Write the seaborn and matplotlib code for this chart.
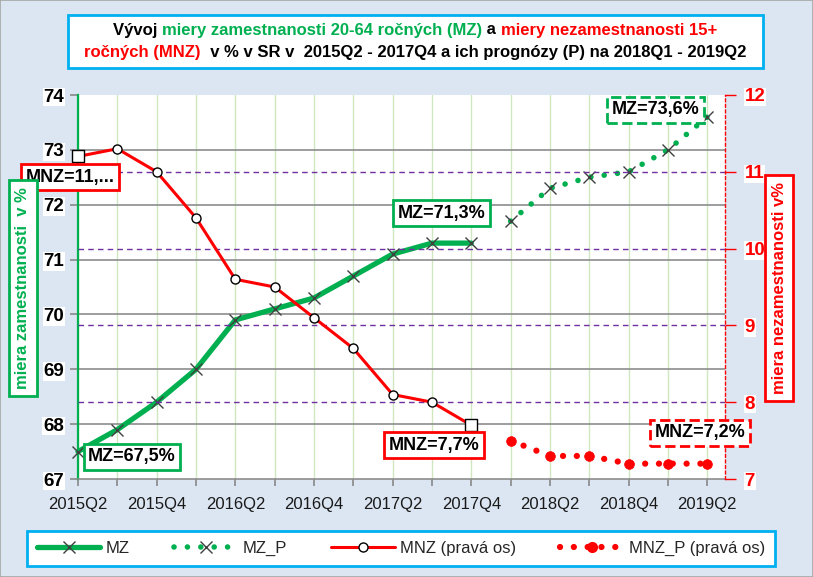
import matplotlib.pyplot as plt
from matplotlib.lines import Line2D
from matplotlib.patches import Rectangle
import seaborn as sns


# ------------------------------------------------------------
# 1. Data
# ------------------------------------------------------------

quarters = ["2015Q2", "2015Q3", "2015Q4", "2016Q1", "2016Q2", "2016Q3", "2016Q4",
            "2017Q1", "2017Q2", "2017Q3", "2017Q4", "2018Q1", "2018Q2", "2018Q3",
            "2018Q4", "2019Q1", "2019Q2"]

# miera zamestnanosti 20-64 (left axis), 2015Q2 - 2017Q4
mz = [67.5, 67.9, 68.4, 69.0, 69.9, 70.1, 70.3, 70.7, 71.1, 71.3, 71.3]
# prognoza 2018Q1 - 2019Q2
mz_p = [71.7, 72.3, 72.5, 72.6, 73.0, 73.6]

# miera nezamestnanosti 15+ (right axis)
mnz = [11.2, 11.3, 11.0, 10.4, 9.6, 9.5, 9.1, 8.7, 8.1, 8.0, 7.7]
mnz_p = [7.5, 7.3, 7.3, 7.2, 7.2, 7.2]

x_hist = list(range(len(mz)))
x_prog = list(range(len(mz), len(quarters)))


# ------------------------------------------------------------
# 2. Style
# ------------------------------------------------------------

BG = "#DCE6F2"
GREEN = "#00B050"
RED = "#FF0000"
PURPLE = "#7030A0"
CYAN = "#00B0F0"
VGRID = "#CFE6BE"
HGRID = "#8C8C8C"
MARK = "#404040"
NARROW = ["Liberation Sans Narrow", "Liberation Sans", "DejaVu Sans"]

sns.set_theme(style="white")
plt.rcParams["font.family"] = NARROW

W, H = 813, 577
fig = plt.figure(figsize=(W / 100, H / 100), dpi=100, facecolor=BG)
fig.patches.append(Rectangle((0, 0), 1, 1, transform=fig.transFigure,
                             fill=False, ec="#A6A6A6", lw=1.2))

ax = fig.add_axes([78 / W, 1 - 479 / H, (725 - 78) / W, (479 - 95) / H])
ax.set_facecolor("white")
ax2 = ax.twinx()

# ------------------------------------------------------------
# 3. Lines
# ------------------------------------------------------------

sns.lineplot(x=x_hist, y=mz, ax=ax, color=GREEN, lw=3.8, marker="x",
             markersize=8, markeredgecolor=MARK, markeredgewidth=1.0,
             legend=False, zorder=4, clip_on=False)
sns.lineplot(x=x_prog, y=mz_p, ax=ax, color=GREEN, lw=4.0,
             linestyle=(0, (0.01, 2.4)), dash_capstyle="round", marker="x",
             markersize=8, markeredgecolor=MARK, markeredgewidth=1.0,
             legend=False, zorder=4, clip_on=False)

sns.lineplot(x=x_hist, y=mnz, ax=ax2, color=RED, lw=2.2, marker="o",
             markersize=6.5, markerfacecolor="white", markeredgecolor="black",
             markeredgewidth=1.0, legend=False, zorder=4, clip_on=False)
sns.scatterplot(x=[x_hist[0], x_hist[-1]], y=[mnz[0], mnz[-1]], ax=ax2,
                marker="s", s=80, color="white", edgecolor="black",
                linewidth=1.0, zorder=5, clip_on=False)
sns.lineplot(x=x_prog, y=mnz_p, ax=ax2, color=RED, lw=4.5,
             linestyle=(0, (0.01, 2.2)), dash_capstyle="round", marker="o",
             markersize=7, markeredgecolor=RED, markeredgewidth=0.5,
             legend=False, zorder=4, clip_on=False)

# ------------------------------------------------------------
# 4. Axes, grid, ticks
# ------------------------------------------------------------

ax.set_xlim(0, 16.45)
ax.set_ylim(67, 74)
ax2.set_ylim(7, 12)

ax.set_xticks(range(len(quarters)))
ax.set_xticklabels([q if i % 2 == 0 else "" for i, q in enumerate(quarters)],
                   fontsize=12)
ax.set_yticks(range(67, 75))
ax.set_yticklabels([str(v) for v in range(67, 75)], fontsize=13.5,
                   fontweight="bold")
ax2.set_yticks(range(7, 13))
ax2.set_yticklabels([str(v) for v in range(7, 13)], fontsize=13.5,
                    fontweight="bold", color=RED)

ax.grid(axis="x", color=VGRID, lw=1.0)
ax.grid(axis="y", color=HGRID, lw=1.2)
ax2.grid(axis="y", color=PURPLE, lw=1.0, ls=(0, (4, 3)))
ax2.grid(axis="x", visible=False)

# no gridlines on the outer edges of the plot area
for gl in [ax.get_ygridlines()[0], ax.get_ygridlines()[-1],
           ax2.get_ygridlines()[0], ax2.get_ygridlines()[-1]]:
    gl.set_visible(False)

ax.tick_params(axis="x", bottom=True, length=5, color=HGRID, pad=8,
               labelcolor="#1A1A1A")
ax.tick_params(axis="y", left=True, length=6, color=HGRID, pad=4,
               labelcolor="black")
ax2.tick_params(axis="y", right=True, length=8, color=RED, width=1.0, pad=6)

for lbl in ax.get_yticklabels() + ax2.get_yticklabels():
    lbl.set_bbox(dict(fc="white", ec="none", pad=0.5))

for side in ["top", "right"]:
    ax.spines[side].set_visible(False)
ax.spines["left"].set_color(GREEN)
ax.spines["left"].set_linewidth(1.6)
ax.spines["bottom"].set_color(HGRID)
ax.spines["bottom"].set_linewidth(1.2)
for side in ["top", "left", "bottom"]:
    ax2.spines[side].set_visible(False)
ax2.spines["right"].set_color(RED)
ax2.spines["right"].set_linestyle((0, (2, 2)))
ax2.spines["right"].set_linewidth(1.0)

# ------------------------------------------------------------
# 5. Data labels
# ------------------------------------------------------------

def box_label(axis, text, xy, offset, color, dashed=False):
    axis.annotate(text, xy=xy, xytext=offset, textcoords="offset pixels",
                  ha="center", va="center", fontsize=13, fontweight="bold",
                  color="black", zorder=10,
                  bbox=dict(boxstyle="square,pad=0.25", fc="white", ec=color,
                            lw=2, ls="--" if dashed else "-"))


box_label(ax2, "MNZ=11,...", (x_hist[0], mnz[0]), (-8, -21), RED)
box_label(ax, "MZ=67,5%", (x_hist[0], mz[0]), (54, -5), GREEN)
box_label(ax, "MZ=71,3%", (x_hist[-1], mz[-1]), (-30, 30), GREEN)
box_label(ax2, "MNZ=7,7%", (x_hist[-1], mnz[-1]), (-37, -20), RED)
box_label(ax, "MZ=73,6%", (x_prog[-1], mz_p[-1]), (-52, 7), GREEN, dashed=True)
box_label(ax2, "MNZ=7,2%", (x_prog[-1], mnz_p[-1]), (-7, 31), RED, dashed=True)

# ------------------------------------------------------------
# 6. Axis titles in boxes
# ------------------------------------------------------------

fig.text(23 / W, 1 - 288 / H, "miera zamestnanosti  v %", rotation=90,
         ha="center", va="center", fontsize=12, fontweight="bold", color=GREEN,
         bbox=dict(boxstyle="square,pad=0.4", fc="white", ec=GREEN, lw=2))
fig.text(779 / W, 1 - 288 / H, "miera nezamestnanosti v%", rotation=90,
         ha="center", va="center", fontsize=12, fontweight="bold", color=RED,
         bbox=dict(boxstyle="square,pad=0.4", fc="white", ec=RED, lw=2))

# ------------------------------------------------------------
# 7. Title box with coloured text
# ------------------------------------------------------------

fig.patches.append(Rectangle((68 / W, 1 - 68 / H), (763 - 68) / W, 53 / H,
                             transform=fig.transFigure, fc="white",
                             ec=CYAN, lw=2, zorder=1))


def coloured_line(y_px, pieces, x_center_px):
    renderer = fig.canvas.get_renderer()
    texts = [fig.text(0, 1 - y_px / H, s, color=c, fontsize=12,
                      fontweight="bold", ha="left", va="center", zorder=3)
             for s, c in pieces]
    widths = [t.get_window_extent(renderer).width for t in texts]
    x = x_center_px - sum(widths) / 2
    for t, w in zip(texts, widths):
        t.set_x(x / W)
        x += w


coloured_line(30, [("Vývoj ", "black"),
                   ("miery zamestnanosti 20-64 ročných (MZ)", GREEN),
                   (" a ", "black"),
                   ("miery nezamestnanosti 15+", RED)], 415)
coloured_line(53, [("ročných (MNZ)", RED),
                   ("  v % v SR v  2015Q2 - 2017Q4 a ich prognózy (P) na 2018Q1 - 2019Q2",
                    "black")], 415)

# ------------------------------------------------------------
# 8. Legend
# ------------------------------------------------------------

handles = [
    Line2D([], [], color=GREEN, lw=3.8, marker="x", markersize=8,
           markeredgecolor=MARK, markeredgewidth=1.0),
    Line2D([], [], color=GREEN, lw=4.0, linestyle=(0, (0.01, 2.4)),
           dash_capstyle="round", marker="x", markersize=8,
           markeredgecolor=MARK, markeredgewidth=1.0),
    Line2D([], [], color=RED, lw=2.2, marker="o", markersize=6.5,
           markerfacecolor="white", markeredgecolor="black",
           markeredgewidth=1.0),
    Line2D([], [], color=RED, lw=4.5, linestyle=(0, (0.01, 2.2)),
           dash_capstyle="round", marker="o", markersize=7,
           markeredgecolor=RED),
]
labels = ["MZ", "MZ_P", "MNZ (pravá os)", "MNZ_P (pravá os)"]

leg = fig.legend(handles, labels, loc="center", ncol=4, mode="expand",
                 bbox_to_anchor=(27 / W, 1 - 567 / H, 748 / W, 37 / H),
                 frameon=True, fancybox=False, fontsize=12,
                 handlelength=3.8, handletextpad=0.3, columnspacing=1.5,
                 borderpad=0.6, borderaxespad=0)
leg.get_frame().set_edgecolor(CYAN)
leg.get_frame().set_linewidth(2)
leg.get_frame().set_facecolor("white")
leg.get_frame().set_alpha(1)

fig.savefig("out.png", dpi=100, facecolor=BG)
